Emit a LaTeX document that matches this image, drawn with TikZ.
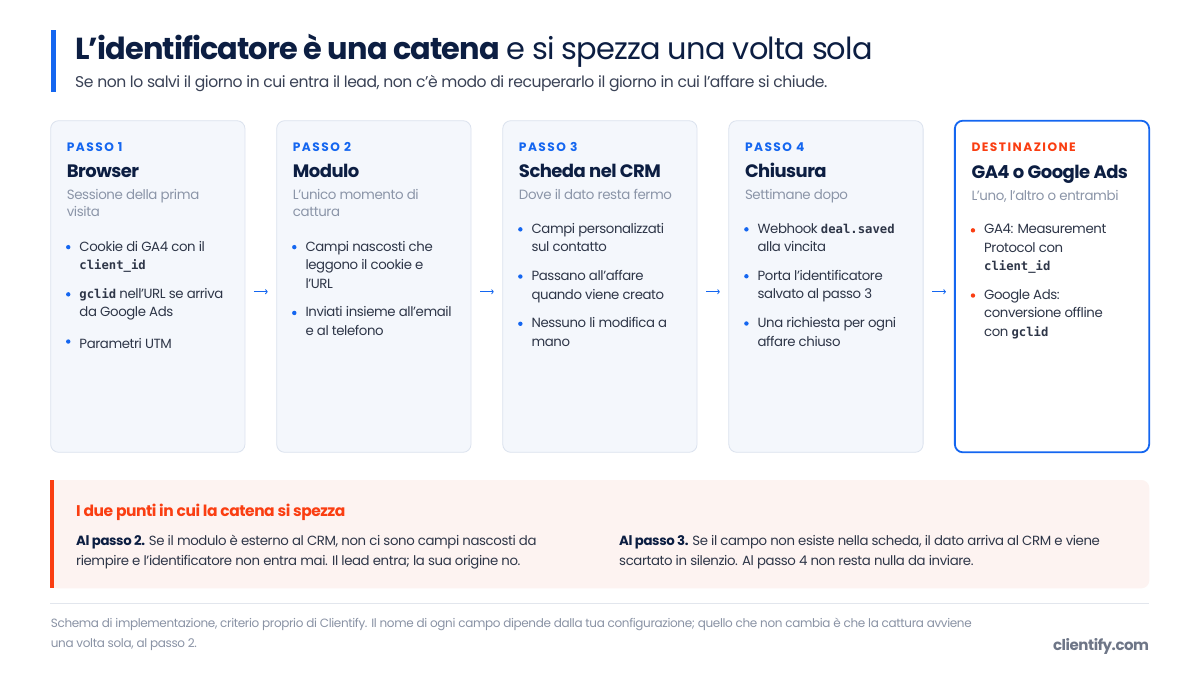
\documentclass[tikz,border=0pt]{standalone}
\usepackage{fontspec}
\setmainfont{Poppins}[LetterSpace=-3]
\setmonofont{DejaVu Sans Mono}[Scale=0.92]
\newfontfamily\trackedfont{Poppins}[LetterSpace=12]
\usetikzlibrary{arrows.meta,positioning}

\definecolor{navy}{RGB}{12,30,66}
\definecolor{accent}{RGB}{20,102,240}
\definecolor{alert}{RGB}{250,62,18}
\definecolor{cardbg}{RGB}{244,247,252}
\definecolor{cardline}{RGB}{219,226,238}
\definecolor{muted}{RGB}{139,149,168}
\definecolor{bodytext}{RGB}{46,54,72}
\definecolor{ledetext}{RGB}{58,66,86}
\definecolor{pinkbg}{RGB}{253,243,241}
\definecolor{rulegray}{RGB}{226,230,237}
\definecolor{foot}{RGB}{138,147,165}
\definecolor{brand}{RGB}{110,118,135}

\newcommand{\code}[1]{{\ttfamily\bfseries #1}}

\begin{document}
\begin{tikzpicture}
      [x = 1pt, y = -1pt,
      card/.style= {
         draw = cardline,
         fill = cardbg,
         line width = 0.8pt,
         rounded corners = 8pt,
         minimum width = 194.3pt,
         minimum height = 331.6pt,
         inner sep = 0pt,
         outer sep = 0pt
      },
      destcard/.style= {card, draw = accent, fill = white, line width = 1.8pt},
      steplabel/.style= {anchor = base west, inner sep = 0pt, text = accent,
         font = \trackedfont\bfseries\fontsize{12.2}{15}\selectfont},
      steptitle/.style= {anchor = base west, inner sep = 0pt, text = navy,
         font = \bfseries\fontsize{18}{22}\selectfont},
      stepsub/.style= {anchor = base west, inner sep = 0pt, text = muted, align = left,
         font = \fontsize{13.4}{17.8}\selectfont,
         execute at begin node = \strut, execute at end node = \strut},
      bulletitem/.style= {anchor = north west, inner sep = 0pt, text = bodytext, align = left,
         font = \fontsize{13.3}{18.6}\selectfont,
         execute at begin node = \strut, execute at end node = \strut},
      flow/.style= {accent, line width = 0.8pt, -{To[length = 2.6pt, width = 5pt]}},
      plain/.style= {anchor = base west, inner sep = 0pt, align = left}]

      % page
      \fill[white] (0, 0) rectangle (1200, 675);
      \useasboundingbox (0, 0) rectangle (1200, 675);

      % heading
      \fill[accent] (50.7, 30) rectangle (55.7, 91.7);
      \node[plain, text = navy, font = \fontsize{30.4}{36}\selectfont] (title) at (75, 59.3)
         {\textbf{L'identificatore è una catena} e si spezza una volta sola};
      \node[plain, text = ledetext, font = \fontsize{15.6}{20}\selectfont] (lede) at (75, 87.3)
         {Se non lo salvi il giorno in cui entra il lead, non c'è modo di recuperarlo il giorno in cui l'affare si chiude.};

      % cards
      \foreach \i in {1,...,4}
         \node[card] (step\i) at ({147.8 + 226.05*(\i - 1)}, 286.5) {};
      \node[destcard] (dest) at (1052, 286.5) {};

      \foreach \a/\b in {step1/step2, step2/step3, step3/step4, step4/dest}
         \draw[flow] ([xshift = 9pt, yshift = -5.2pt]\a.east) -- ([xshift = -9pt, yshift = -5.2pt]\b.west);

      % step 1
      \node[steplabel] (lab1) at ([xshift = 16pt, yshift = -30.3pt]step1.north west) {PASSO 1};
      \node[steptitle] (tit1) at ([xshift = 16pt, yshift = -57pt]step1.north west) {Browser};
      \node[stepsub] (sub1) at ([xshift = 16pt, yshift = -96.1pt]step1.north west) {Sessione della prima\\visita};
      \node[bulletitem] (i11) at ([xshift = 12.6pt, yshift = -18.5pt]sub1.south west) {Cookie di GA4 con il\\\code{client\_id}};
      \node[bulletitem] (i12) at ([yshift = -12.5pt]i11.south west) {\code{gclid} nell'URL se arriva\\da Google Ads};
      \node[bulletitem] (i13) at ([yshift = -12.5pt]i12.south west) {Parametri UTM};

      % step 2
      \node[steplabel] (lab2) at ([xshift = 16pt, yshift = -30.3pt]step2.north west) {PASSO 2};
      \node[steptitle] (tit2) at ([xshift = 16pt, yshift = -57pt]step2.north west) {Modulo};
      \node[stepsub] (sub2) at ([xshift = 16pt, yshift = -96.1pt]step2.north west) {L'unico momento di\\cattura};
      \node[bulletitem] (i21) at ([xshift = 12.6pt, yshift = -18.5pt]sub2.south west) {Campi nascosti che\\leggono il cookie e\\l'URL};
      \node[bulletitem] (i22) at ([yshift = -12.5pt]i21.south west) {Inviati insieme all'email\\e al telefono};

      % step 3
      \node[steplabel] (lab3) at ([xshift = 16pt, yshift = -30.3pt]step3.north west) {PASSO 3};
      \node[steptitle] (tit3) at ([xshift = 16pt, yshift = -57pt]step3.north west) {Scheda nel CRM};
      \node[stepsub] (sub3) at ([xshift = 16pt, yshift = -78.3pt]step3.north west) {Dove il dato resta fermo};
      \node[bulletitem] (i31) at ([xshift = 12.6pt, yshift = -18.5pt]sub3.south west) {Campi personalizzati\\sul contatto};
      \node[bulletitem] (i32) at ([yshift = -12.5pt]i31.south west) {Passano all'affare\\quando viene creato};
      \node[bulletitem] (i33) at ([yshift = -12.5pt]i32.south west) {Nessuno li modifica a\\mano};

      % step 4
      \node[steplabel] (lab4) at ([xshift = 16pt, yshift = -30.3pt]step4.north west) {PASSO 4};
      \node[steptitle] (tit4) at ([xshift = 16pt, yshift = -57pt]step4.north west) {Chiusura};
      \node[stepsub] (sub4) at ([xshift = 16pt, yshift = -78.3pt]step4.north west) {Settimane dopo};
      \node[bulletitem] (i41) at ([xshift = 12.6pt, yshift = -18.5pt]sub4.south west) {Webhook \code{deal.saved}\\alla vincita};
      \node[bulletitem] (i42) at ([yshift = -12.5pt]i41.south west) {Porta l'identificatore\\salvato al passo 3};
      \node[bulletitem] (i43) at ([yshift = -12.5pt]i42.south west) {Una richiesta per ogni\\affare chiuso};

      % destination
      \node[steplabel, text = alert] (lab5) at ([xshift = 16.5pt, yshift = -31pt]dest.north west) {DESTINAZIONE};
      \node[steptitle] (tit5) at ([xshift = 16.5pt, yshift = -57.6pt]dest.north west) {GA4 o Google Ads};
      \node[stepsub] (sub5) at ([xshift = 16.5pt, yshift = -79.3pt]dest.north west) {L'uno, l'altro o entrambi};
      \node[bulletitem] (i51) at ([xshift = 12.6pt, yshift = -18.5pt]sub5.south west) {GA4: Measurement\\Protocol con\\\code{client\_id}};
      \node[bulletitem] (i52) at ([yshift = -12.5pt]i51.south west) {Google Ads:\\conversione offline\\con \code{gclid}};

      \foreach \n in {i11, i12, i13, i21, i22, i31, i32, i33, i41, i42, i43}
         \fill[accent] ([xshift = -11pt, yshift = -6.3pt]\n.north west) circle (2.2);
      \foreach \n in {i51, i52}
         \fill[alert] ([xshift = -11pt, yshift = -6.3pt]\n.north west) circle (2.2);

      % where the chain breaks
      \fill[pinkbg, rounded corners = 8pt] (50, 480) -- (1149.3, 480) -- (1149.3, 588.3) -- (50, 588.3) [sharp corners] -- cycle;
      \fill[pinkbg] (50, 480) rectangle (70, 588.3);
      \fill[alert] (50, 480) rectangle (54, 588.3);
      \node[plain, text = alert, font = \bfseries\fontsize{15.5}{19}\selectfont] (warnhead) at (76, 516)
         {I due punti in cui la catena si spezza};
      \node[plain, text = bodytext, font = \fontsize{13.3}{20.5}\selectfont] (warn2) at (76, 565.5)
         {\textcolor{navy}{\textbf{Al passo 2.}} Se il modulo è esterno al CRM, non ci sono campi nascosti da\\riempire e l'identificatore non entra mai. Il lead entra; la sua origine no.};
      \node[plain, text = bodytext, font = \fontsize{13.3}{20.5}\selectfont] (warn3) at (619, 565.5)
         {\textcolor{navy}{\textbf{Al passo 3.}} Se il campo non esiste nella scheda, il dato arriva al CRM e viene\\scartato in silenzio. Al passo 4 non resta nulla da inviare.};

      % footer
      \draw[rulegray, line width = 0.8pt] (50, 603.3) -- (1149.3, 603.3);
      \node[plain, text = foot, font = \fontsize{12}{19.5}\selectfont] (note) at (50.7, 647)
         {Schema di implementazione, criterio proprio di Clientify. Il nome di ogni campo dipende dalla tua configurazione; quello che non cambia è che la cattura avviene\\una volta sola, al passo 2.};
      \node[anchor = base east, inner sep = 0pt, text = brand, font = \bfseries\fontsize{15}{18}\selectfont] (brand) at (1149.3, 650)
         {clientify.com};

   \end{tikzpicture}
\end{document}
